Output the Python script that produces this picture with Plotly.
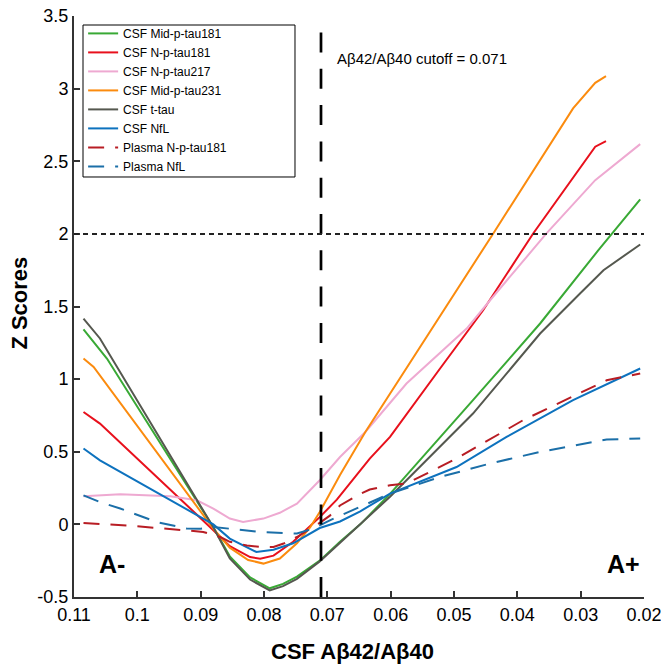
import plotly.graph_objects as go

# ---------------- data ----------------
CUTOFF = 0.071
Z_THRESHOLD = 2.0

x_tick_vals = [0.11, 0.10, 0.09, 0.08, 0.07, 0.06, 0.05, 0.04, 0.03, 0.02]
x_tick_text = ["0.11", "0.1", "0.09", "0.08", "0.07", "0.06", "0.05", "0.04", "0.03", "0.02"]
y_tick_vals = [-0.5, 0, 0.5, 1, 1.5, 2, 2.5, 3, 3.5]
y_tick_text = ["-0.5", "0", "0.5", "1", "1.5", "2", "2.5", "3", "3.5"]

x_mid181 = [0.1085, 0.1048, 0.088, 0.0854, 0.0822, 0.0791, 0.077, 0.0748, 0.0712, 0.068, 0.0648, 0.0601, 0.047, 0.0364, 0.0272, 0.0206]
y_mid181 = [1.342, 1.142, -0.02, -0.22, -0.365, -0.44, -0.41, -0.36, -0.25, -0.12, 0.0, 0.21, 0.855, 1.383, 1.888, 2.237]

x_n181 = [0.1085, 0.1059, 0.088, 0.0854, 0.0822, 0.0806, 0.0785, 0.0754, 0.0712, 0.0685, 0.0633, 0.0601, 0.0522, 0.0454, 0.0375, 0.0277, 0.026]
y_n181 = [0.774, 0.694, -0.04, -0.15, -0.225, -0.236, -0.215, -0.12, 0.05, 0.17, 0.453, 0.602, 1.073, 1.474, 2.003, 2.6, 2.638]

x_n217 = [0.1085, 0.1027, 0.0948, 0.0906, 0.088, 0.0854, 0.0833, 0.0801, 0.0775, 0.0748, 0.0712, 0.068, 0.064, 0.0575, 0.048, 0.0443, 0.0354, 0.0277, 0.0206]
y_n217 = [0.193, 0.207, 0.193, 0.166, 0.109, 0.04, 0.017, 0.04, 0.08, 0.143, 0.304, 0.464, 0.636, 0.97, 1.348, 1.543, 2.003, 2.37, 2.618]

x_mid231 = [0.1085, 0.1069, 0.088, 0.0854, 0.0825, 0.0801, 0.0775, 0.0748, 0.0727, 0.0712, 0.068, 0.064, 0.0438, 0.0312, 0.0277, 0.026]
y_mid231 = [1.142, 1.084, -0.03, -0.16, -0.245, -0.27, -0.235, -0.13, -0.02, 0.085, 0.34, 0.636, 2.003, 2.864, 3.04, 3.086]

x_ttau = [0.1085, 0.1059, 0.088, 0.0854, 0.0822, 0.0791, 0.077, 0.0748, 0.0712, 0.068, 0.0648, 0.0601, 0.047, 0.0364, 0.0301, 0.0264, 0.0206]
y_ttau = [1.417, 1.28, -0.02, -0.235, -0.38, -0.455, -0.425, -0.375, -0.255, -0.125, 0.0, 0.19, 0.763, 1.314, 1.59, 1.75, 1.927]

x_nfl = [0.1085, 0.1059, 0.088, 0.0854, 0.0812, 0.0785, 0.0754, 0.0712, 0.068, 0.0648, 0.0601, 0.0549, 0.0496, 0.0417, 0.0312, 0.0206]
y_nfl = [0.522, 0.441, 0.0, -0.098, -0.19, -0.175, -0.13, -0.025, 0.02, 0.09, 0.212, 0.304, 0.395, 0.602, 0.855, 1.073]

x_pl_n181 = [0.1085, 0.1001, 0.0927, 0.0896, 0.0869, 0.0854, 0.0827, 0.0806, 0.0785, 0.0769, 0.0748, 0.0712, 0.0696, 0.068, 0.0648, 0.0633, 0.0601, 0.0575, 0.0496, 0.0391, 0.0259, 0.0206]
y_pl_n181 = [0.01, -0.013, -0.04, -0.052, -0.087, -0.12, -0.145, -0.155, -0.155, -0.132, -0.087, 0.01, 0.06, 0.13, 0.21, 0.24, 0.269, 0.281, 0.453, 0.717, 0.992, 1.039]

x_pl_nfl = [0.1085, 0.1059, 0.1027, 0.097, 0.0922, 0.090, 0.088, 0.0854, 0.0806, 0.0748, 0.0722, 0.0696, 0.0654, 0.0601, 0.0522, 0.0443, 0.0364, 0.0259, 0.0206]
y_pl_nfl = [0.20, 0.154, 0.109, 0.017, -0.029, -0.03, -0.018, -0.029, -0.052, -0.063, -0.029, 0.028, 0.109, 0.212, 0.326, 0.419, 0.499, 0.584, 0.591]

series = [
    ("CSF Mid-p-tau181", x_mid181, y_mid181, "#39a935", "solid"),
    ("CSF N-p-tau181", x_n181, y_n181, "#e8101c", "solid"),
    ("CSF N-p-tau217", x_n217, y_n217, "#eea9d1", "solid"),
    ("CSF Mid-p-tau231", x_mid231, y_mid231, "#fb8b0e", "solid"),
    ("CSF t-tau", x_ttau, y_ttau, "#55584f", "solid"),
    ("CSF NfL", x_nfl, y_nfl, "#0d72be", "solid"),
    ("Plasma N-p-tau181", x_pl_n181, y_pl_n181, "#b81d24", "16px,11px"),
    ("Plasma NfL", x_pl_nfl, y_pl_nfl, "#1b6fa8", "16px,11px"),
]

FONT = "Liberation Sans, Arial, sans-serif"

fig = go.Figure()
for name, xs, ys, color, dash in series:
    fig.add_trace(go.Scatter(x=xs, y=ys, mode="lines", name=name,
                             line=dict(color=color, width=2, dash=dash)))

# legend frame (wider than the entries, as in the original)
fig.add_shape(type="rect", xref="paper", yref="paper", x0=0.0158, x1=0.3877, y0=0.7229, y1=0.9845,
              line=dict(color="black", width=1), fillcolor="white", layer="below")

# reference lines
fig.add_shape(type="line", xref="x", yref="paper", x0=CUTOFF, x1=CUTOFF, y0=0, y1=0.9725,
              line=dict(color="black", width=2.7, dash="20px,16.3px"))
fig.add_shape(type="line", xref="paper", yref="y", x0=0, x1=1, y0=Z_THRESHOLD, y1=Z_THRESHOLD,
              line=dict(color="#222222", width=2, dash="5px,4px"))

fig.add_annotation(x=CUTOFF - 0.0022, y=3.21, xref="x", yref="y", text="Aβ42/Aβ40 cutoff = 0.071",
                   showarrow=False, xanchor="left", yanchor="middle",
                   font=dict(family=FONT, size=15, color="black"))
fig.add_annotation(x=0.104, y=-0.27, xref="x", yref="y", text="<b>A-</b>", showarrow=False,
                   xanchor="center", yanchor="middle", font=dict(family=FONT, size=25, color="black"))
fig.add_annotation(x=0.0233, y=-0.27, xref="x", yref="y", text="<b>A+</b>", showarrow=False,
                   xanchor="center", yanchor="middle", font=dict(family=FONT, size=25, color="black"))
fig.add_annotation(x=0.489, y=-0.0935, xref="paper", yref="paper", text="<b>CSF Aβ42/Aβ40</b>",
                   showarrow=False, xanchor="center", yanchor="middle",
                   font=dict(family=FONT, size=22, color="black"))
fig.add_annotation(x=-0.0947, y=0.505, xref="paper", yref="paper", text="<b>Z Scores</b>",
                   showarrow=False, textangle=-90, xanchor="center", yanchor="middle",
                   font=dict(family=FONT, size=22, color="black"))

axis_common = dict(showgrid=False, zeroline=False, showline=True, linecolor="#333333", linewidth=2,
                   ticks="inside", ticklen=6, tickwidth=1.5, tickcolor="#333333",
                   tickfont=dict(family=FONT, size=18, color="black"), mirror=False,
                   ticklabeloverflow="allow", automargin=False)

# the page body adds an 8px offset, so the figure is sized/margined to compensate
fig.update_layout(
    width=661, height=657,
    margin=dict(l=66, r=25, t=8, b=68, autoexpand=False),
    paper_bgcolor="white", plot_bgcolor="white",
    font=dict(family=FONT, color="black"),
    xaxis=dict(range=[0.11, 0.02], tickmode="array", tickvals=x_tick_vals, ticktext=x_tick_text, **axis_common),
    yaxis=dict(range=[-0.5, 3.5], tickmode="array", tickvals=y_tick_vals, ticktext=y_tick_text, **axis_common),
    legend=dict(x=0.016, y=0.995, xanchor="left", yanchor="top", bgcolor="rgba(0,0,0,0)",
                borderwidth=0, font=dict(family=FONT, size=12, color="black"),
                tracegroupgap=0),
    showlegend=True,
)

fig.write_html("out.html")
